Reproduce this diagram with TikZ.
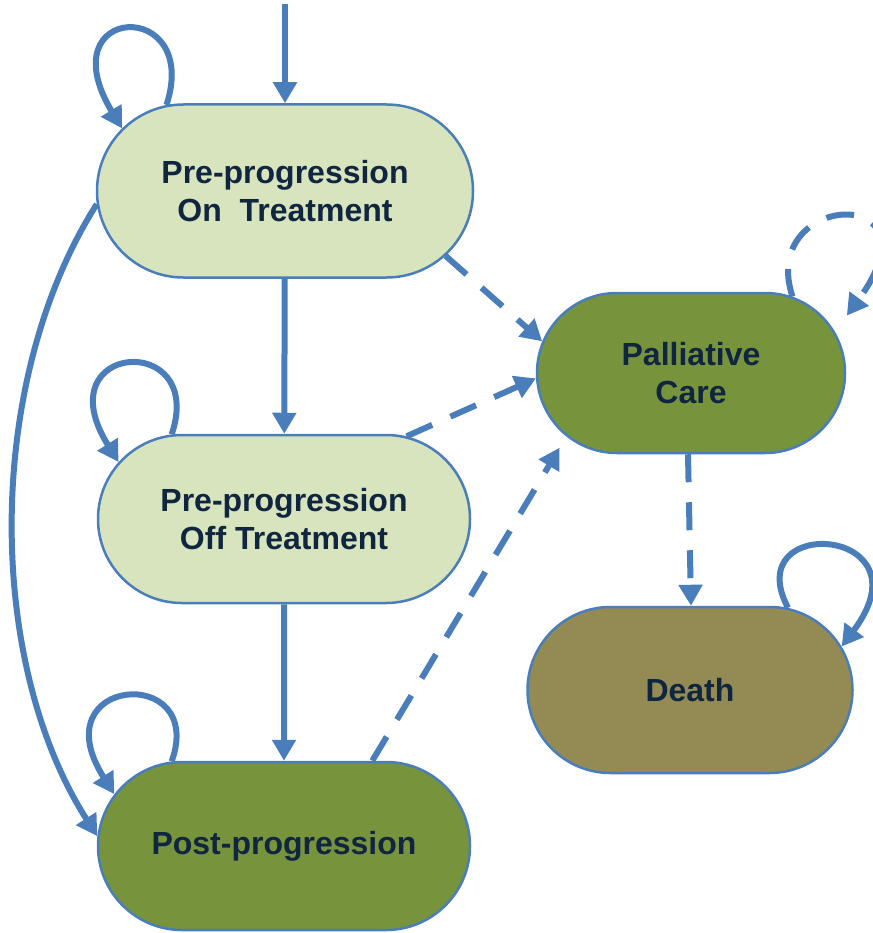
\documentclass[tikz,border=0pt]{standalone}
\usepackage{fontspec}
\setmainfont{Liberation Sans}
\usetikzlibrary{shapes.misc,arrows.meta}

\definecolor{edgeblue}{HTML}{4A7EBB}
\definecolor{paleGreen}{HTML}{D7E4BD}
\definecolor{oliveGreen}{HTML}{77933C}
\definecolor{deathBrown}{HTML}{948A54}
\definecolor{labelNavy}{HTML}{10253F}

\tikzset{
  state/.style={rounded rectangle, draw=edgeblue, line width=2.5pt,
    inner sep=0pt, align=center, text=labelNavy,
    font=\fontsize{32}{38}\selectfont\bfseries},
  flow/.style={draw=edgeblue, line width=6pt,
    -{Triangle[length=21pt,width=23pt]}},
  maybe/.style={flow, dash pattern=on 28pt off 20pt},
}

\begin{document}
\begin{tikzpicture}[x=1pt,y=-1pt]
  \useasboundingbox (0,0) rectangle (872,933);

  % states
  \node[state, fill=paleGreen, minimum width=376pt, minimum height=173pt]
    (on) at (285,191) {Pre-progression\\On~ Treatment};
  \node[state, fill=paleGreen, minimum width=372pt, minimum height=168pt]
    (off) at (284,519) {Pre-progression\\Off Treatment};
  \node[state, fill=oliveGreen, minimum width=372pt, minimum height=168pt]
    (post) at (284,846) {Post-progression};
  \node[state, fill=oliveGreen, minimum width=308pt, minimum height=160pt]
    (pal) at (691,373) {Palliative\\Care};
  \node[state, fill=deathBrown, minimum width=325pt, minimum height=166pt]
    (death) at (690,690) {Death};

  \coordinate (entry) at (285,4);

  % solid transitions
  \draw[flow] (entry) -- (on);
  \draw[flow] (on) -- (off);
  \draw[flow] (off) -- (post);
  \draw[flow] (on.184) .. controls (-15,380) and (-15,660) .. (post.177);

  % staying in the same state
  \draw[flow] (on.144) .. controls +(35,-108) and +(-75,-125) .. (on.159);
  \draw[flow] (off.143) .. controls +(35,-104) and +(-75,-120) .. (off.161);
  \draw[flow] (post.143) .. controls +(35,-98) and +(-75,-118) .. (post.163);
  \draw[flow] (death.40) .. controls +(-50,-95) and +(90,-120) .. (death.16);
  \draw[maybe, shorten >=20pt]
    (pal.37) .. controls +(-35,-105) and +(110,-150) .. (pal.16);

  % dashed transitions to palliative care and death
  \draw[maybe] (on.-22) -- (pal.168);
  \draw[maybe] (off.34) -- (pal.182);
  \draw[maybe, shorten >=13pt] (post.44) -- (pal.207.6);
  \draw[maybe] ([xshift=-3pt]pal.south) -- ([xshift=1pt]death.north);
\end{tikzpicture}
\end{document}
